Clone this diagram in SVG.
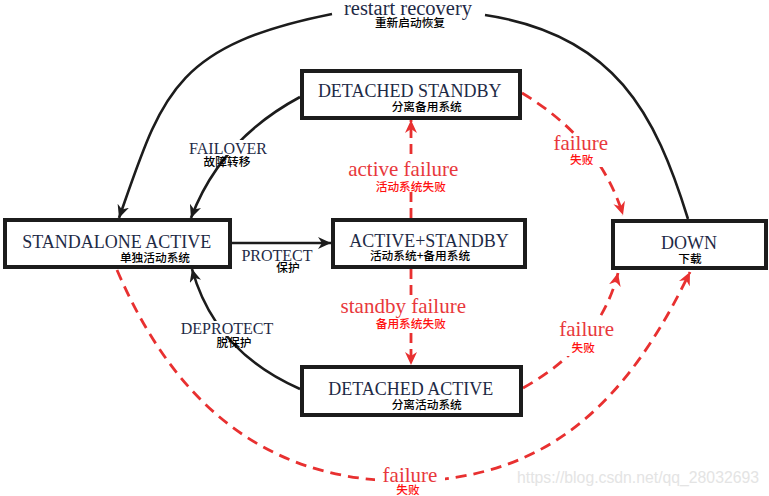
<svg xmlns="http://www.w3.org/2000/svg" width="769" height="496" viewBox="0 0 769 496">
<defs>
<style>
.box{fill:#fff;stroke:#1c1c1c;stroke-width:4}
.t{font-family:"Liberation Serif","Times New Roman",serif;font-size:18px;fill:#1e2a46;text-anchor:middle}
.lb{font-family:"Liberation Serif","Times New Roman",serif;font-size:16px;fill:#1e2a46;text-anchor:middle}
.rl{font-family:"Liberation Serif","Times New Roman",serif;font-size:21px;fill:#e8383c;text-anchor:middle}
.bl{font-family:"Liberation Serif","Times New Roman",serif;font-size:20.5px;fill:#1e2a46;text-anchor:middle}
.cn{font-family:"Noto Sans CJK SC","Noto Sans",sans-serif;font-size:11.7px;font-weight:500;fill:#000;text-anchor:middle}
.cr{font-family:"Noto Sans CJK SC","Noto Sans",sans-serif;font-size:11.7px;font-weight:500;fill:#ff1010;text-anchor:middle}
.k{fill:none;stroke:#1c1c1c;stroke-width:2.6}
.r{fill:none;stroke:#e83030;stroke-width:2.8;stroke-dasharray:11 7}
.rv{fill:none;stroke:#e83030;stroke-width:2.8;stroke-dasharray:10 6}
.bg{fill:#fff}
.wm{font-family:"Liberation Sans",Arial,sans-serif;font-size:15.8px;fill:#e4e4e4}
</style>
<marker id="ak" markerUnits="userSpaceOnUse" markerWidth="14" markerHeight="12" viewBox="0 0 14 12" refX="13" refY="6" orient="auto">
<path d="M0,0 L13,6 L0,12 L4,6 z" fill="#1c1c1c"/>
</marker>
<marker id="ar" markerUnits="userSpaceOnUse" markerWidth="14" markerHeight="12" viewBox="0 0 14 12" refX="13" refY="6" orient="auto">
<path d="M0,0 L13,6 L0,12 L4,6 z" fill="#e83030"/>
</marker>
</defs>
<rect width="769" height="496" fill="#fff"/>
<g id="connectors">
<path class="k" d="M688 219 C655.5 113.9 615 34.5 485 15"/>
<path class="k" d="M332 14 C172 46 161.9 95.8 119 218" marker-end="url(#ak)"/>
<path class="k" d="M300 97 Q220 140 191 218" marker-end="url(#ak)"/>
<path class="k" d="M232 243 L331 243" marker-end="url(#ak)"/>
<path class="k" d="M300 389 Q215 352 192 269" marker-end="url(#ak)"/>
<path class="rv" d="M411 218 L411 120" marker-end="url(#ar)"/>
<path class="rv" d="M411 269 L411 365" marker-end="url(#ar)"/>
<path class="r" d="M522 93 Q600 140 623 215" marker-end="url(#ar)"/>
<path class="r" d="M523 388 Q600 345 618 273" marker-end="url(#ar)"/>
<path class="r" d="M117 270 C169 391 255 481 405 481 C555 481 631.5 392.5 690 272" marker-end="url(#ar)"/>
</g>
<g id="labels">
<rect class="bg" x="334" y="0" width="150" height="30"/>
<rect class="bg" x="188" y="140" width="81" height="15"/>
<rect class="bg" x="178" y="321" width="98" height="15"/>
<rect class="bg" x="346" y="159" width="115" height="33"/>
<rect class="bg" x="340" y="297" width="127" height="35"/>
<rect class="bg" x="551" y="134" width="60" height="33"/>
<rect class="bg" x="557" y="320" width="60" height="36"/>
<rect class="bg" x="375" y="466" width="70" height="30"/>
<text class="bl" x="408" y="15">restart recovery</text>
<text class="cn" x="410" y="27">重新启动恢复</text>
<text class="lb" x="228" y="154">FAILOVER</text>
<text class="cn" x="227" y="165.8">故障转移</text>
<text class="lb" x="277" y="260.5">PROTECT</text>
<text class="cn" x="288" y="272">保护</text>
<text class="lb" x="227" y="334">DEPROTECT</text>
<text class="cn" x="234" y="347.3">脱保护</text>
<text class="rl" x="403.3" y="176">active failure</text>
<text class="cr" x="410.8" y="190.5">活动系统失败</text>
<text class="rl" x="403.3" y="313">standby failure</text>
<text class="cr" x="410.8" y="328">备用系统失败</text>
<text class="rl" x="580.8" y="150">failure</text>
<text class="cr" x="581.7" y="164">失败</text>
<text class="rl" x="586.7" y="336">failure</text>
<text class="cr" x="583.3" y="352">失败</text>
<text class="rl" x="410" y="481.5">failure</text>
<text class="cr" x="408" y="494">失败</text>
<text class="wm" x="517" y="483" textLength="242" lengthAdjust="spacingAndGlyphs">https://blog.csdn.net/qq_28032693</text>
</g>
<g id="node-detached-standby">
<rect class="box" x="302" y="71" width="218" height="47"/>
<text class="t" x="409.7" y="97">DETACHED STANDBY</text>
<text class="cn" x="426.7" y="110.5">分离备用系统</text>
</g>
<g id="node-standalone-active">
<rect class="box" x="5" y="220" width="225" height="47"/>
<text class="t" x="116.7" y="248">STANDALONE ACTIVE</text>
<text class="cn" x="155" y="261.5">单独活动系统</text>
</g>
<g id="node-active-standby">
<rect class="box" x="333" y="220" width="192" height="47"/>
<text class="t" x="429" y="246.7">ACTIVE+STANDBY</text>
<text class="cn" x="420" y="260">活动系统+备用系统</text>
</g>
<g id="node-down">
<rect class="box" x="613" y="221" width="153" height="47"/>
<text class="t" x="689" y="249.3">DOWN</text>
<text class="cn" x="690" y="262.5">下载</text>
</g>
<g id="node-detached-active">
<rect class="box" x="302" y="367" width="219" height="48"/>
<text class="t" x="410.8" y="395">DETACHED ACTIVE</text>
<text class="cn" x="426.7" y="408.5">分离活动系统</text>
</g>
</svg>
